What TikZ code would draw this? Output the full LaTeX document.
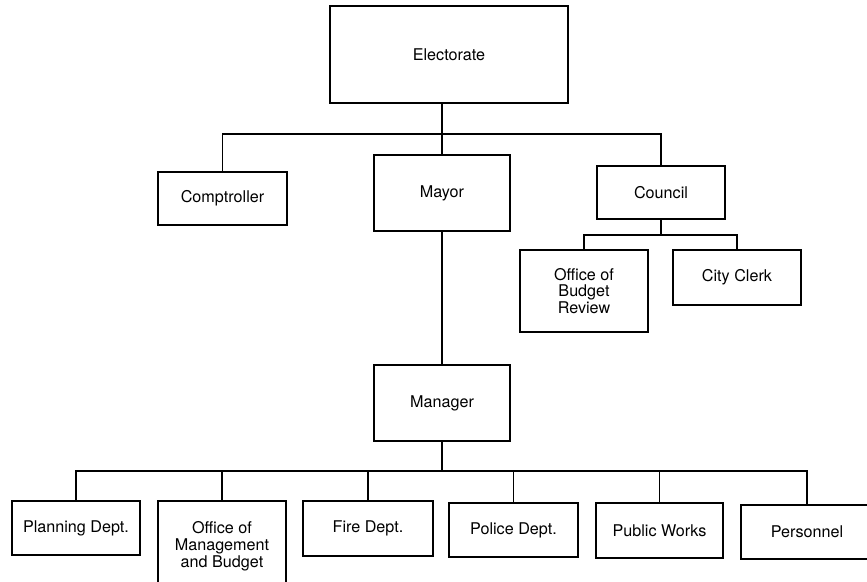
\documentclass[tikz,border=0pt]{standalone}
\usepackage{fontspec}
\setmainfont{TeX Gyre Heros}
\tikzset{
  unitbox/.style 2 args={draw, minimum width=#1*0.02cm, minimum height=#2*0.02cm,
    inner sep=0pt, align=center},
  link/.style={line width=0.7pt}
}
\begin{document}
\begin{tikzpicture}[x=0.02cm, y=-0.02cm, line width=0.7pt,
    font=\fontsize{9.2}{9.6}\selectfont]
  \useasboundingbox (0,0) rectangle (867,582);
  \clip (0,0) rectangle (867,582);
  % top levels
  \node[unitbox={238}{97}] (elect) at (449,54.5) {Electorate};
  \node[unitbox={129}{53}] (compt) at (222.5,198.5) {Comptroller};
  \node[unitbox={136}{76}] (mayor) at (442,193) {Mayor};
  \node[unitbox={128}{53}] (council) at (661,192.5) {Council};
  % council staff
  \node[unitbox={128}{82}] (budrev) at (584,291) {Office of\\Budget\\Review};
  \node[unitbox={128}{55}] (clerk) at (737,277.5) {City Clerk};
  % manager and departments
  \node[unitbox={136}{76}] (manager) at (442,403) {Manager};
  \node[unitbox={128}{54}] (plan) at (76,528) {Planning Dept.};
  \node[unitbox={128}{90}] (omb) at (222,546) {Office of\\Management\\and Budget};
  \node[unitbox={130}{55}] (fire) at (368,528.5) {Fire Dept.};
  \node[unitbox={129}{54}] (police) at (513.5,530) {Police Dept.};
  \node[unitbox={127}{55}] (works) at (659.5,530.5) {Public Works};
  \node[unitbox={132}{54}] (staff) at (807,532) {Personnel};
  % bus lines
  \coordinate (topbus) at (442,134);
  \coordinate (clbus) at (661,235);
  \coordinate (depbus) at (442,471);
  \draw[link] (elect.south -| mayor) -- (mayor.north);
  \draw[link] (compt.north) |- (topbus) -| (council.north);
  \draw[link] (mayor.south) -- (manager.north);
  \draw[link] (council.south) -- (clbus);
  \draw[link] (budrev.north) |- (clbus) -| (clerk.north);
  \draw[link] (manager.south) -- (depbus);
  \draw[link] (plan.north) |- (depbus) -| (staff.north);
  \foreach \d in {omb, fire, police, works}{
    \draw[link] (\d.north) -- (\d.north |- depbus);
  }
\end{tikzpicture}
\end{document}
